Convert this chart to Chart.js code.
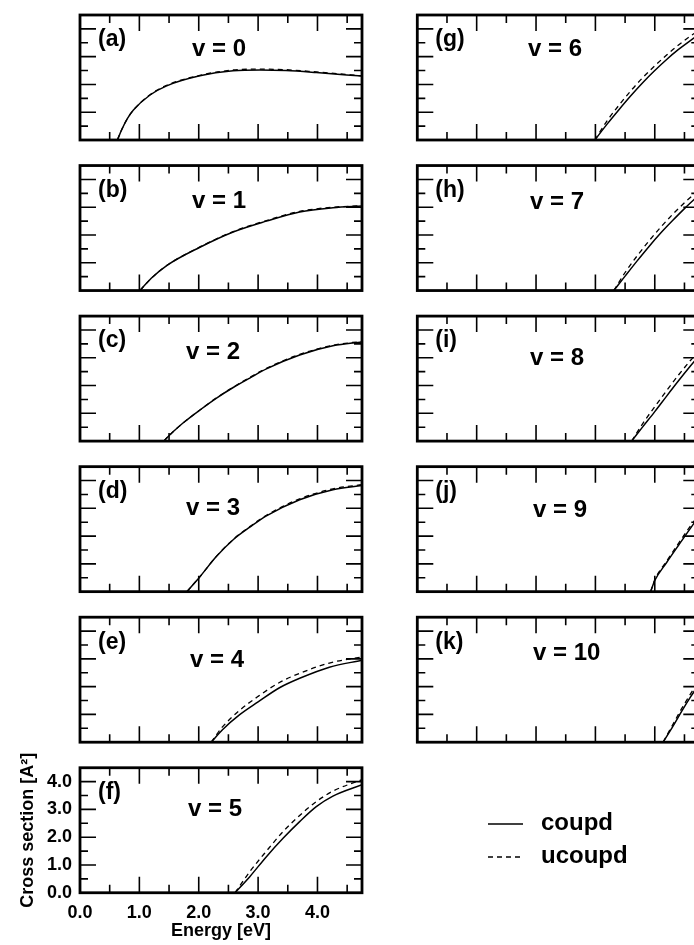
<!DOCTYPE html>
<html>
<head>
<meta charset="utf-8">
<title>Cross sections v = 0 - 10</title>
<script src="https://cdn.jsdelivr.net/npm/chart.js@4.4.0/dist/chart.umd.min.js"></script>
<style>
  html, body { margin: 0; padding: 0; background: #fff; overflow: hidden; }
  #page { position: relative; width: 694px; height: 945px; overflow: hidden; }
  #page canvas { position: absolute; left: 0; top: 0; }
</style>
</head>
<body>
<div id="page"></div>
<script>
// energies in eV, cross sections in A^2, one set per vibrational level
const energyV0 = [0.63, 0.70, 0.80, 0.90, 1.18, 1.46, 2.02, 2.58, 3.03, 3.47, 3.98, 4.75];
const coupdV0  = [0.00, 0.36, 0.78, 1.08, 1.62, 1.95, 2.31, 2.49, 2.52, 2.50, 2.43, 2.30];
const ucoupdV0 = [0.00, 0.36, 0.78, 1.08, 1.63, 1.97, 2.33, 2.52, 2.55, 2.53, 2.45, 2.31];

const energyV1 = [1.01, 1.20, 1.46, 2.02, 2.58, 3.14, 3.70, 4.26, 4.75];
const coupdV1  = [0.00, 0.44, 0.90, 1.56, 2.11, 2.50, 2.83, 2.98, 3.04];
const ucoupdV1 = [0.00, 0.44, 0.90, 1.57, 2.12, 2.52, 2.85, 3.00, 3.05];

const energyV2 = [1.41, 1.55, 1.74, 2.02, 2.30, 2.58, 2.86, 3.14, 3.70, 4.26, 4.75];
const coupdV2  = [0.00, 0.30, 0.66, 1.12, 1.55, 1.93, 2.27, 2.60, 3.10, 3.43, 3.57];
const ucoupdV2 = [0.00, 0.30, 0.66, 1.12, 1.56, 1.94, 2.29, 2.62, 3.12, 3.45, 3.59];

const energyV3 = [1.80, 2.02, 2.30, 2.58, 2.86, 3.14, 3.70, 4.26, 4.75];
const coupdV3  = [0.00, 0.54, 1.27, 1.87, 2.32, 2.73, 3.31, 3.67, 3.82];
const ucoupdV3 = [0.00, 0.54, 1.28, 1.88, 2.34, 2.75, 3.34, 3.70, 3.85];

const energyV4 = [2.21, 2.40, 2.69, 3.00, 3.36, 3.70, 4.20, 4.75];
const coupdV4  = [0.00, 0.45, 0.99, 1.45, 1.96, 2.30, 2.70, 2.95];
const ucoupdV4 = [0.00, 0.55, 1.15, 1.65, 2.15, 2.48, 2.85, 3.07];

const energyV5 = [2.61, 2.86, 3.14, 3.42, 3.70, 3.98, 4.26, 4.75];
const coupdV5  = [0.00, 0.58, 1.30, 1.96, 2.56, 3.10, 3.48, 3.89];
const ucoupdV5 = [0.00, 0.76, 1.50, 2.20, 2.78, 3.28, 3.66, 4.07];

const energyV6 = [2.99, 3.20, 3.40, 3.60, 3.80, 4.00, 4.20, 4.40, 4.60, 4.75];
const coupdV6  = [0.00, 0.58, 1.10, 1.60, 2.07, 2.50, 2.90, 3.26, 3.58, 3.80];
const ucoupdV6 = [0.00, 0.70, 1.26, 1.78, 2.25, 2.67, 3.06, 3.42, 3.74, 3.95];

const energyV7 = [3.31, 3.50, 3.70, 3.90, 4.10, 4.30, 4.50, 4.75];
const coupdV7  = [0.00, 0.52, 1.06, 1.58, 2.07, 2.52, 2.95, 3.45];
const ucoupdV7 = [0.00, 0.65, 1.24, 1.78, 2.28, 2.74, 3.16, 3.64];

const energyV8 = [3.61, 3.80, 4.00, 4.20, 4.40, 4.60, 4.75];
const coupdV8  = [0.00, 0.52, 1.06, 1.62, 2.17, 2.70, 3.08];
const ucoupdV8 = [0.00, 0.64, 1.24, 1.82, 2.38, 2.90, 3.26];

const energyV9 = [3.93, 4.00, 4.20, 4.40, 4.60, 4.75];
const coupdV9  = [0.00, 0.40, 1.05, 1.67, 2.28, 2.72];
const ucoupdV9 = [0.00, 0.43, 1.10, 1.74, 2.36, 2.80];

const energyV10 = [4.14, 4.30, 4.45, 4.60, 4.75];
const coupdV10  = [0.00, 0.55, 1.10, 1.62, 2.10];
const ucoupdV10 = [0.00, 0.62, 1.20, 1.73, 2.22];

const levels  = [0, 1, 2, 3, 4, 5, 6, 7, 8, 9, 10];
const letters = ['a', 'b', 'c', 'd', 'e', 'f', 'g', 'h', 'i', 'j', 'k'];
const seriesNames = ['coupd', 'ucoupd'];

const xTickValues = [0, 1, 2, 3, 4];
const xTickLabels = ['0.0', '1.0', '2.0', '3.0', '4.0'];
const yTickValues = [0, 1, 2, 3, 4];
const yTickLabels = ['0.0', '1.0', '2.0', '3.0', '4.0'];

const energies = [energyV0, energyV1, energyV2, energyV3, energyV4, energyV5,
                  energyV6, energyV7, energyV8, energyV9, energyV10];
const coupd  = [coupdV0, coupdV1, coupdV2, coupdV3, coupdV4, coupdV5,
                coupdV6, coupdV7, coupdV8, coupdV9, coupdV10];
const ucoupd = [ucoupdV0, ucoupdV1, ucoupdV2, ucoupdV3, ucoupdV4, ucoupdV5,
                ucoupdV6, ucoupdV7, ucoupdV8, ucoupdV9, ucoupdV10];

// layout of the grid of panels
const CW = 720, CH = 945;
const colLeft = [80, 417.3];
const plotW = 282, plotH = 125;
const rowTop = r => 15 + r * 150.55;
// where the "v = n" text sits inside each panel
const vLabelX  = [192, 192, 186, 186, 190, 188, 528, 530, 530, 533, 533];
const vLabelDy = [34, 36, 36, 42, 43, 42, 34, 37, 42, 44, 36];

const FONT = '"Liberation Sans", Arial, Helvetica, sans-serif';
Chart.defaults.font.family = FONT;
Chart.defaults.color = '#000';

const framePlugin = {
  id: 'panelFrame',
  afterDraw(chart, args, opts) {
    const { ctx, chartArea: a, scales: { x, y } } = chart;
    ctx.save();
    ctx.strokeStyle = '#000';
    ctx.fillStyle = '#000';

    // inward ticks on all four sides
    ctx.lineWidth = 1.6;
    ctx.beginPath();
    for (let e = 0.5; e < x.max; e += 0.5) {
      const px = x.getPixelForValue(e);
      const len = e % 1 === 0 ? 16 : 8;
      ctx.moveTo(px, a.bottom); ctx.lineTo(px, a.bottom - len);
      ctx.moveTo(px, a.top); ctx.lineTo(px, a.top + len);
    }
    for (let s = 0.5; s < y.max; s += 0.5) {
      const py = y.getPixelForValue(s);
      const len = s % 1 === 0 ? 16 : 8;
      ctx.moveTo(a.left, py); ctx.lineTo(a.left + len, py);
      ctx.moveTo(a.right, py); ctx.lineTo(a.right - len, py);
    }
    ctx.stroke();

    ctx.lineWidth = 2.8;
    ctx.strokeRect(a.left, a.top, a.right - a.left, a.bottom - a.top);

    ctx.textBaseline = 'middle';
    ctx.textAlign = 'left';
    ctx.font = 'bold 23px ' + FONT;
    ctx.fillText('(' + opts.letter + ')', a.left + 18, a.top + 25);
    ctx.font = 'bold 24px ' + FONT;
    ctx.fillText('v = ' + opts.level, opts.labelX, a.top + opts.labelDy);

    if (opts.legend) {
      const rows = [824, 857];
      chart.data.datasets.forEach((ds, k) => {
        ctx.lineWidth = ds.borderWidth;
        ctx.setLineDash(ds.borderDash || []);
        ctx.beginPath();
        ctx.moveTo(488, rows[k]);
        ctx.lineTo(523, rows[k]);
        ctx.stroke();
        ctx.setLineDash([]);
        ctx.fillText(ds.label, 541, rows[k] - 1);
      });
    }
    ctx.restore();
  }
};

const page = document.getElementById('page');

levels.forEach((v, i) => {
  const col = i < 6 ? 0 : 1;
  const row = i < 6 ? i : i - 6;
  const left = colLeft[col];
  const top = rowTop(row);
  const withAxes = i === 5;
  const yW = withAxes ? left : 0;
  const xH = withAxes ? CH - (top + plotH) : 0;

  const canvas = document.createElement('canvas');
  canvas.width = CW;
  canvas.height = CH;
  page.appendChild(canvas);

  const pts = ys => energies[i].map((e, k) => ({ x: e, y: ys[k] }));

  new Chart(canvas, {
    type: 'line',
    data: {
      datasets: [
        { label: seriesNames[0], data: pts(coupd[i]), borderColor: '#000', borderWidth: 1.5,
          pointRadius: 0, cubicInterpolationMode: 'monotone', fill: false },
        { label: seriesNames[1], data: pts(ucoupd[i]), borderColor: '#000', borderWidth: 1.3,
          borderDash: [5, 4], pointRadius: 0, cubicInterpolationMode: 'monotone', fill: false }
      ]
    },
    options: {
      responsive: false,
      animation: false,
      events: [],
      layout: {
        padding: { left: left - yW, top: top, right: CW - left - plotW, bottom: CH - top - plotH - xH }
      },
      plugins: {
        legend: { display: false },
        tooltip: { enabled: false },
        panelFrame: { letter: letters[i], level: v, labelX: vLabelX[i], labelDy: vLabelDy[i], legend: withAxes }
      },
      scales: {
        x: {
          type: 'linear', min: 0, max: 4.75,
          grid: { display: false, drawTicks: false }, border: { display: false },
          afterBuildTicks: s => { s.ticks = xTickValues.map(t => ({ value: t })); },
          ticks: {
            display: withAxes, padding: 9, maxRotation: 0,
            font: { size: 18, weight: 'bold' },
            callback: (val) => xTickLabels[xTickValues.indexOf(val)]
          },
          title: { display: withAxes, text: 'Energy [eV]', font: { size: 18, weight: 'bold' },
                   padding: { top: 0, bottom: 3 } },
          afterFit: s => { s.height = xH; }
        },
        y: {
          type: 'linear', min: 0, max: 4.5,
          grid: { display: false, drawTicks: false }, border: { display: false },
          afterBuildTicks: s => { s.ticks = yTickValues.map(t => ({ value: t })); },
          ticks: {
            display: withAxes, padding: 8,
            font: { size: 18, weight: 'bold' },
            callback: (val) => yTickLabels[yTickValues.indexOf(val)]
          },
          title: { display: withAxes, text: 'Cross section [A²]', font: { size: 18, weight: 'bold' },
                   padding: { top: 17, bottom: 0 } },
          afterFit: s => { s.width = yW; }
        }
      }
    },
    plugins: [framePlugin]
  });
});
</script>
</body>
</html>
